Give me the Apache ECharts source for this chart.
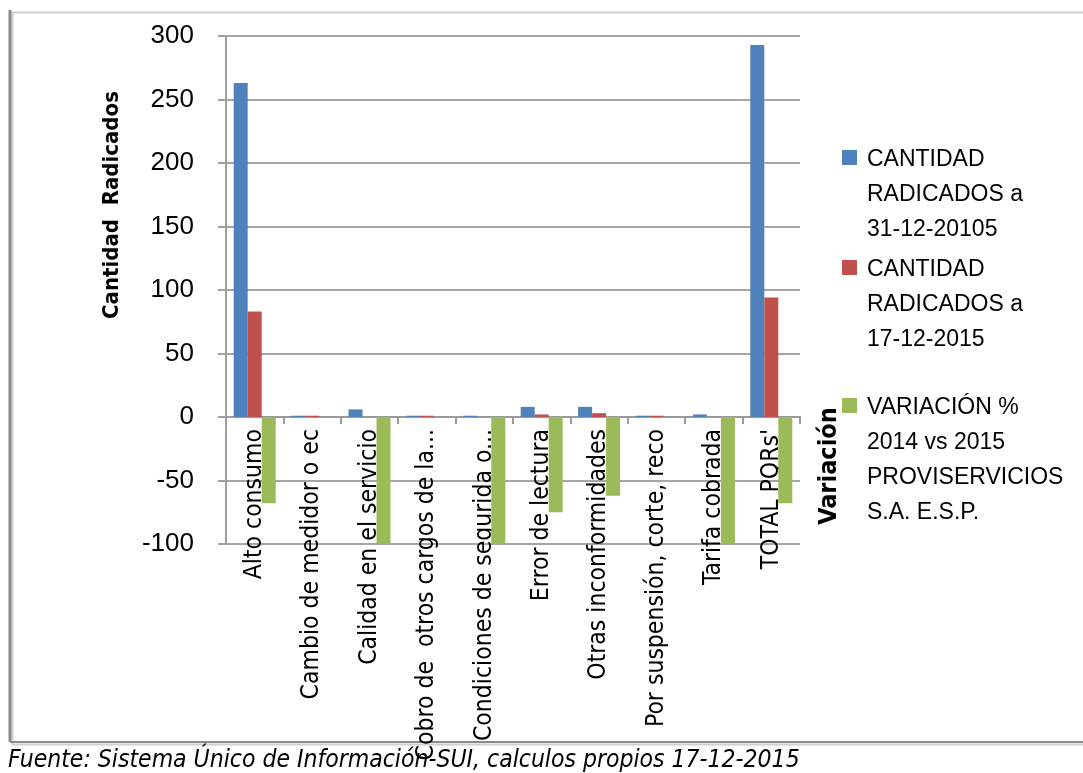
<!DOCTYPE html>
<html>
<head>
<meta charset="utf-8">
<script src="https://cdn.jsdelivr.net/npm/echarts@6/dist/echarts.min.js"></script>
<style>
html,body{margin:0;padding:0;background:#fff;}
#chart{width:1083px;height:773px;}
</style>
</head>
<body>
<div id="chart"></div>
<script>
const categories = [
  "Alto consumo",
  "Cambio de medidor o ec",
  "Calidad en el servicio",
  "Cobro de  otros cargos de la...",
  "Condiciones de segurida o...",
  "Error de lectura",
  "Otras inconformidades",
  "Por suspensión, corte, reco",
  "Tarifa cobrada",
  "TOTAL PQRs'"
];
const radicados2014 = [263, 1, 6, 1, 1, 8, 8, 1, 2, 293];
const radicados2015 = [83, 1, 0, 1, 0, 2, 3, 1, 0, 94];
const variacion = [-68, 0, -100, 0, -100, -75, -62, 0, -100, -68];
const seriesNames = [
  "CANTIDAD\nRADICADOS a\n31-12-20105",
  "CANTIDAD\nRADICADOS a\n17-12-2015",
  "VARIACIÓN %\n2014 vs 2015\nPROVISERVICIOS\nS.A. E.S.P."
];
const seriesColors = ["#4F81BD", "#C0504D", "#9BBB59"];
const yTicks = [-100, -50, 0, 50, 100, 150, 200, 250, 300];
const yAxisTitle = "Cantidad  Radicados";
const y2Title = "Variación";
const footer = "Fuente: Sistema Único de Información-SUI, calculos propios 17-12-2015";

const NARROW = "'Liberation Sans Narrow', 'Arial Narrow', 'DejaVu Sans Condensed', sans-serif";
const SANS = "'Liberation Sans', Arial, sans-serif";

const chart = echarts.init(document.getElementById('chart'), null, {renderer: 'canvas'});

const legendTop = [142, 252, 390];
const legendGraphics = seriesNames.map((n, i) => ({
  type: 'group',
  left: 842,
  top: legendTop[i],
  children: [
    {type: 'rect', shape: {x: 0, y: 8, width: 15, height: 15}, style: {fill: seriesColors[i]}},
    {type: 'text', x: 25, y: 0, style: {text: n, font: "23px " + SANS, fill: '#000', lineHeight: 35}}
  ]
}));

const H = 773;
const gridTop = 36, gridBottomPx = 544, gridLeft = 226, gridRight = 283;
const yMin = yTicks[0], yMax = yTicks[yTicks.length - 1];
// pixel row of the zero line inside the main grid
const zeroPx = gridTop + (yMax - 0) / (yMax - yMin) * (gridBottomPx - gridTop);

const option = {
  animation: false,
  backgroundColor: '#fff',
  grid: [
    {left: gridLeft, right: gridRight, top: gridTop, bottom: H - gridBottomPx, containLabel: false, outerBoundsMode: 'none'},
    {left: gridLeft, right: gridRight, top: gridTop, bottom: H - zeroPx, containLabel: false, outerBoundsMode: 'none'}
  ],
  xAxis: [
    {
      type: 'category', gridIndex: 0, data: categories,
      axisLine: {show: true, onZero: true, lineStyle: {color: '#9a9a9a', width: 2}},
      axisTick: {show: false},
      axisLabel: {show: false}, splitLine: {show: false}
    },
    {
      type: 'category', gridIndex: 1, data: categories, position: 'bottom',
      axisLine: {show: false, onZero: false},
      axisTick: {show: true, length: 7, lineStyle: {color: '#9a9a9a', width: 2}},
      axisLabel: {interval: 0, rotate: 90, margin: 12, color: '#000', fontSize: 24.5, fontFamily: NARROW},
      splitLine: {show: false}
    }
  ],
  yAxis: [
    {
      type: 'value', gridIndex: 0,
      min: yMin, max: yMax, interval: 50,
      axisLine: {show: true, lineStyle: {color: '#a0a0a0', width: 2}},
      axisTick: {show: true, length: 8, lineStyle: {color: '#a0a0a0', width: 2}},
      axisLabel: {color: '#000', fontSize: 26, fontFamily: SANS, margin: 32},
      splitLine: {show: true, lineStyle: {color: '#a6a6a6', width: 2}}
    },
    {
      type: 'value', gridIndex: 1, min: 0, max: yMax, show: false,
      axisLine: {show: false}, axisTick: {show: false}, axisLabel: {show: false},
      splitLine: {show: false}
    }
  ],
  series: [
    {name: seriesNames[0], type: 'bar', xAxisIndex: 0, yAxisIndex: 0, data: radicados2014, barWidth: 14, barGap: '0%', itemStyle: {color: seriesColors[0]}},
    {name: seriesNames[1], type: 'bar', xAxisIndex: 0, yAxisIndex: 0, data: radicados2015, barWidth: 14, barGap: '0%', itemStyle: {color: seriesColors[1]}},
    {name: seriesNames[2], type: 'bar', xAxisIndex: 0, yAxisIndex: 0, data: variacion, barWidth: 14, barGap: '0%', itemStyle: {color: seriesColors[2]}}
  ],
  graphic: [
    {type: 'rect', left: 10, top: 10, z: -10, shape: {width: 1090, height: 732}, style: {fill: 'none', stroke: '#d0d0d0', lineWidth: 2}},
    {type: 'line', z: -9, shape: {x1: 10, y1: 10, x2: 10, y2: 742}, style: {stroke: '#8a8a8a', lineWidth: 3}},
    {type: 'line', z: -9, shape: {x1: 10, y1: 742, x2: 1083, y2: 742}, style: {stroke: '#8a8a8a', lineWidth: 2}},
    {type: 'text', x: 112, y: 205, rotation: Math.PI / 2, style: {text: yAxisTitle, font: "bold 22px " + NARROW, fill: '#000', align: 'center', verticalAlign: 'middle'}},
    {type: 'text', x: 829, y: 466, rotation: Math.PI / 2, style: {text: y2Title, font: "bold 25px " + NARROW, fill: '#000', align: 'center', verticalAlign: 'middle'}},
    {type: 'text', left: 8, top: 748, style: {text: footer, font: "italic 24.5px " + NARROW, fill: '#000'}}
  ].concat(legendGraphics)
};
chart.setOption(option);
</script>
</body>
</html>
